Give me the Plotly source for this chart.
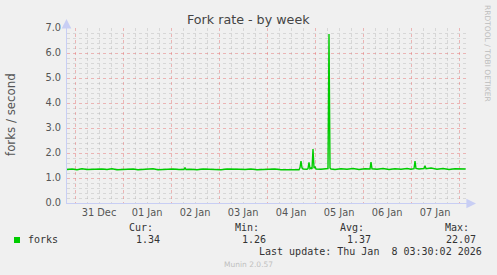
import plotly.graph_objects as go

# ---- data ----
times = [
    "2025-12-30 20:00", "2025-12-30 22:30", "2025-12-31 01:00", "2025-12-31 03:30",
    "2025-12-31 06:00", "2025-12-31 08:30", "2025-12-31 11:00", "2025-12-31 13:30",
    "2025-12-31 16:00", "2025-12-31 18:30", "2025-12-31 21:00", "2026-01-01 00:00",
    "2026-01-01 02:30", "2026-01-01 05:00", "2026-01-01 07:30", "2026-01-01 10:00",
    "2026-01-01 12:30", "2026-01-01 15:00", "2026-01-01 17:30", "2026-01-01 20:00",
    "2026-01-01 22:30", "2026-01-02 01:00", "2026-01-02 04:00", "2026-01-02 06:30",
    "2026-01-02 07:00", "2026-01-02 07:30", "2026-01-02 10:00", "2026-01-02 13:00",
    "2026-01-02 16:00", "2026-01-02 19:00", "2026-01-02 22:00", "2026-01-03 01:00",
    "2026-01-03 04:00", "2026-01-03 07:00", "2026-01-03 10:00", "2026-01-03 13:00",
    "2026-01-03 16:00", "2026-01-03 19:00", "2026-01-03 22:00", "2026-01-04 01:00",
    "2026-01-04 04:00", "2026-01-04 07:00", "2026-01-04 10:00", "2026-01-04 13:00",
    "2026-01-04 16:00", "2026-01-04 16:30", "2026-01-04 17:00", "2026-01-04 17:30",
    "2026-01-04 18:00", "2026-01-04 20:00", "2026-01-04 20:30", "2026-01-04 21:00",
    "2026-01-04 21:30", "2026-01-04 22:00", "2026-01-04 22:30", "2026-01-04 23:00",
    "2026-01-04 23:30", "2026-01-05 00:00", "2026-01-05 00:30", "2026-01-05 03:00",
    "2026-01-05 06:00", "2026-01-05 06:30", "2026-01-05 07:00", "2026-01-05 07:30",
    "2026-01-05 08:00", "2026-01-05 10:00", "2026-01-05 13:00", "2026-01-05 16:00",
    "2026-01-05 19:00", "2026-01-05 22:00", "2026-01-06 01:00", "2026-01-06 03:30",
    "2026-01-06 04:00", "2026-01-06 04:30", "2026-01-06 07:00", "2026-01-06 10:00",
    "2026-01-06 13:00", "2026-01-06 16:00", "2026-01-06 19:00", "2026-01-06 22:00",
    "2026-01-07 00:00", "2026-01-07 01:30", "2026-01-07 02:00", "2026-01-07 02:30",
    "2026-01-07 04:00", "2026-01-07 06:30", "2026-01-07 07:00", "2026-01-07 07:30",
    "2026-01-07 10:00", "2026-01-07 13:00", "2026-01-07 16:00", "2026-01-07 19:00",
    "2026-01-07 22:00", "2026-01-08 01:00", "2026-01-08 03:20",
]
forks = [
    1.34, 1.36, 1.33, 1.37,
    1.34, 1.35, 1.33, 1.36,
    1.34, 1.37, 1.33, 1.35,
    1.34, 1.36, 1.33, 1.35,
    1.34, 1.37, 1.33, 1.35,
    1.34, 1.36, 1.34, 1.34,
    1.42, 1.34, 1.35, 1.33,
    1.36, 1.34, 1.35, 1.33,
    1.36, 1.34, 1.35, 1.34,
    1.36, 1.33, 1.35, 1.34,
    1.36, 1.33, 1.34, 1.33,
    1.33, 1.42, 1.68, 1.41,
    1.36, 1.35, 1.38, 1.63,
    1.37, 1.40, 1.36, 2.16,
    1.40, 1.46, 1.36, 1.35,
    1.36, 1.38, 6.76, 1.40,
    1.36, 1.34, 1.37, 1.35,
    1.38, 1.34, 1.37, 1.36,
    1.64, 1.37, 1.35, 1.38,
    1.34, 1.37, 1.35, 1.38,
    1.35, 1.37, 1.68, 1.38,
    1.36, 1.38, 1.49, 1.37,
    1.40, 1.35, 1.38, 1.34,
    1.37, 1.35, 1.36,
]
series_name = "forks"
stat_labels = ["Cur:", "Min:", "Avg:", "Max:"]
stat_values = ["1.34", "1.26", "1.37", "22.07"]
title = "Fork rate - by week"
y_title = "forks / second"
last_update = "Last update: Thu Jan\u00a0\u00a08 03:30:02 2026"
x_range = ["2025-12-30 20:00", "2026-01-08 04:30"]
y_range = [0, 7.0]

# ---- layout geometry (pixels) ----
W, H = 497, 275
L, R, T, B = 67, 468, 28, 203
PW, PH = R - L, B - T


def fx(px):
    return (px - L) / PW


def fy(py):
    return (B - py) / PH


BG = "#F0F0F0"
GREEN = "#00CC00"
MAJOR = "rgba(230,120,120,0.5)"
MINOR = "rgba(170,170,170,0.35)"
AXIS = "#C8CEF4"
FONT = "DejaVu Sans"
MONO = "DejaVu Sans Mono"

fig = go.Figure()
fig.add_trace(go.Scatter(
    x=times, y=forks, mode="lines", name=series_name,
    line=dict(color=GREEN, width=1.4), showlegend=False,
))

fig.update_layout(
    width=W, height=H,
    margin=dict(l=L, r=W - R, t=T, b=H - B),
    paper_bgcolor=BG, plot_bgcolor=BG,
    font=dict(family=FONT, color="#555555"),
    showlegend=False,
)

fig.update_xaxes(
    type="date", range=x_range,
    dtick=86400000, tick0="2025-12-31", tickformat="%d %b",
    ticklabelmode="period",
    showgrid=True, gridcolor=MAJOR, griddash="dot", gridwidth=1,
    minor=dict(dtick=21600000, tick0="2025-12-31", showgrid=True,
               gridcolor=MINOR, griddash="dot", gridwidth=1),
    showline=True, linecolor=AXIS, linewidth=1,
    ticks="", zeroline=False,
    tickfont=dict(family=FONT, size=9.8, color="#555555"),
)
fig.update_yaxes(
    range=y_range, dtick=1, tick0=0, tickformat=".1f",
    showgrid=True, gridcolor=MAJOR, griddash="dot", gridwidth=1,
    minor=dict(dtick=0.2, showgrid=True, gridcolor=MINOR,
               griddash="dot", gridwidth=1),
    showline=True, linecolor=AXIS, linewidth=1,
    ticks="", zeroline=False,
    ticklabelstandoff=3,
    tickfont=dict(family=FONT, size=9.8, color="#555555"),
)

ann = []
# title
ann.append(dict(text=title, x=fx(248), y=fy(19), xref="paper", yref="paper",
                xanchor="center", yanchor="middle", showarrow=False,
                font=dict(family=FONT, size=12.7, color="#444444")))
# y axis title
ann.append(dict(text=y_title, x=fx(11), y=fy(115), xref="paper", yref="paper",
                xanchor="center", yanchor="middle", showarrow=False,
                textangle=-90, font=dict(family=FONT, size=11.8, color="#555555")))
# rrdtool vertical credit
ann.append(dict(text="RRDTOOL / TOBI OETIKER", x=fx(488), y=fy(53), xref="paper",
                yref="paper", xanchor="center", yanchor="middle", showarrow=False,
                textangle=90, font=dict(family=FONT, size=7.5, color="#BDBDBD")))
# axis arrows
ann.append(dict(text="", x=fx(L - 0.5), y=fy(19), xref="paper", yref="paper",
                ax=0, ay=10, showarrow=True, arrowhead=2, arrowsize=1.6,
                arrowwidth=1.2, arrowcolor=AXIS))
ann.append(dict(text="", x=fx(476), y=fy(B + 0.5), xref="paper", yref="paper",
                ax=-10, ay=0, showarrow=True, arrowhead=2, arrowsize=1.6,
                arrowwidth=1.2, arrowcolor=AXIS))
# legend
ann.append(dict(text=series_name, x=fx(26), y=fy(239.5), xref="paper", yref="paper",
                xanchor="left", yanchor="middle", showarrow=False,
                font=dict(family=MONO, size=10, color="#333333")))
label_right = [155, 261, 366, 471]
value_right = [162, 268, 373, 478]
for lab, val, lr, vr in zip(stat_labels, stat_values, label_right, value_right):
    ann.append(dict(text=lab, x=fx(lr), y=fy(227.5), xref="paper", yref="paper",
                    xanchor="right", yanchor="middle", showarrow=False,
                    font=dict(family=MONO, size=10, color="#333333")))
    ann.append(dict(text=val, x=fx(vr), y=fy(239.5), xref="paper", yref="paper",
                    xanchor="right", yanchor="middle", showarrow=False,
                    font=dict(family=MONO, size=10, color="#333333")))
ann.append(dict(text=last_update, x=fx(484), y=fy(251.5), xref="paper", yref="paper",
                xanchor="right", yanchor="middle", showarrow=False,
                font=dict(family=MONO, size=10, color="#333333")))
ann.append(dict(text="Munin 2.0.57", x=fx(248), y=fy(264), xref="paper", yref="paper",
                xanchor="center", yanchor="middle", showarrow=False,
                font=dict(family=FONT, size=7.5, color="#BFBFBF")))
fig.update_layout(annotations=ann)

# legend colour swatch
fig.add_shape(type="rect", xref="paper", yref="paper",
              x0=fx(14), x1=fx(20), y0=fy(243), y1=fy(237),
              fillcolor=GREEN, line=dict(width=0))

fig.write_html("out.html")
